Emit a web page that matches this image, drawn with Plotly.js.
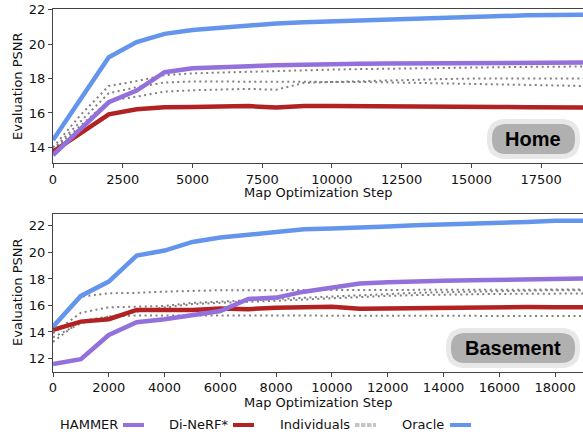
<!DOCTYPE html>
<html>
<head>
<meta charset="utf-8">
<script src="https://cdn.plot.ly/plotly-3.0.1.min.js"></script>
<style>html,body{margin:0;padding:0;background:#fff;}#chart{width:583px;height:435px;}</style>
</head>
<body>
<div id="chart"></div>
<script>
// ---- data ----
const steps = [0,1000,2000,3000,4000,5000,6000,7000,8000,9000,10000,11000,12000,13000,14000,15000,16000,17000,18000,19000];

const homeOracle = [14.43,16.85,19.24,20.12,20.6,20.83,20.97,21.1,21.2,21.28,21.33,21.4,21.48,21.5,21.55,21.6,21.65,21.68,21.7,21.72];
const homeHammer = [13.55,15.05,16.62,17.3,18.37,18.6,18.68,18.76,18.78,18.8,18.85,18.86,18.87,18.88,18.88,18.9,18.9,18.92,18.92,18.93];
const homeDinerf = [13.75,14.8,15.92,16.21,16.33,16.35,16.35,16.4,16.31,16.4,16.4,16.4,16.4,16.4,16.35,16.37,16.35,16.33,16.33,16.32];
const homeIndA = [14.0,15.9,17.57,17.85,18.2,18.3,18.35,18.4,18.45,18.5,18.52,18.55,18.58,18.6,18.62,18.64,18.66,18.68,18.7,18.7];
const homeIndB = [13.9,15.55,17.15,17.5,17.77,17.83,17.83,17.8,17.8,17.8,17.82,17.8,17.78,17.75,17.72,17.7,17.65,17.62,17.6,17.57];
const homeIndC = [13.85,15.3,16.7,16.95,17.24,17.32,17.35,17.4,17.35,17.75,17.8,17.85,17.9,17.95,17.97,18.0,18.0,18.0,17.98,18.0];

const baseOracle = [14.4,16.72,17.8,19.76,20.14,20.79,21.12,21.32,21.57,21.75,21.8,21.85,21.95,22.05,22.1,22.15,22.2,22.3,22.4,22.4];
const baseHammer = [11.58,11.94,13.77,14.73,14.96,15.28,15.58,16.49,16.59,17.04,17.35,17.65,17.75,17.85,17.87,17.9,17.95,17.97,18.0,18.03];
const baseDinerf = [14.15,14.78,14.96,15.66,15.66,15.66,15.76,15.72,15.83,15.83,15.9,15.75,15.78,15.78,15.8,15.83,15.9,15.88,15.86,15.86];
const baseInd1 = [14.3,16.66,16.92,16.95,17.04,17.12,17.15,17.15,17.15,17.15,17.15,17.17,17.17,17.17,17.18,17.18,17.2,17.2,17.2,17.2];
const baseInd2 = [13.9,15.45,15.86,15.9,15.96,16.2,16.3,16.35,16.45,16.55,16.65,16.75,16.85,16.95,17.0,17.05,17.1,17.12,17.15,17.15];
const baseInd3 = [13.6,14.65,15.15,15.53,15.85,16.1,16.2,16.25,16.35,16.45,16.55,16.65,16.72,16.78,16.82,16.85,16.87,16.88,16.9,16.9];
const baseInd4 = [13.25,14.85,15.15,15.25,15.25,15.25,15.25,15.25,15.22,15.22,15.2,15.2,15.2,15.2,15.2,15.2,15.2,15.2,15.2,15.2];

const homeXTicks = [0,2500,5000,7500,10000,12500,15000,17500];
const baseXTicks = [0,2000,4000,6000,8000,10000,12000,14000,16000,18000];
const homeYTicks = [14,16,18,20,22];
const baseYTicks = [12,14,16,18,20,22];

const seriesNames = ['HAMMER','Di-NeRF*','Individuals','Oracle'];
const sceneLabels = ['Home','Basement'];
const xTitle = 'Map Optimization Step';
const yTitle = 'Evaluation PSNR';

// ---- styles ----
const C = {HAMMER:'#9370DB', DINERF:'#B22222', IND:'#808080', ORACLE:'#6495ED'};
const W = 4.5;
const FONT = 'DejaVu Sans, sans-serif';
const H = 435, L = 53, PW = 530;
const px2x = p => (p - L) / PW;
const py2y = p => 1 - p / H;

function line(x, y, color, xa, ya, dotted) {
  return {x:x, y:y, xaxis:xa, yaxis:ya, mode:'lines', type:'scatter', showlegend:false, hoverinfo:'skip',
    line:{color:color, width: dotted ? 2 : W, dash: dotted ? '2px,3.5px' : 'solid'}};
}

const traces = [
  line(steps, homeIndA, C.IND, 'x', 'y', true),
  line(steps, homeIndB, C.IND, 'x', 'y', true),
  line(steps, homeIndC, C.IND, 'x', 'y', true),
  line(steps, homeDinerf, C.DINERF, 'x', 'y'),
  line(steps, homeHammer, C.HAMMER, 'x', 'y'),
  line(steps, homeOracle, C.ORACLE, 'x', 'y'),
  line(steps, baseInd1, C.IND, 'x2', 'y2', true),
  line(steps, baseInd2, C.IND, 'x2', 'y2', true),
  line(steps, baseInd3, C.IND, 'x2', 'y2', true),
  line(steps, baseInd4, C.IND, 'x2', 'y2', true),
  line(steps, baseDinerf, C.DINERF, 'x2', 'y2'),
  line(steps, baseHammer, C.HAMMER, 'x2', 'y2'),
  line(steps, baseOracle, C.ORACLE, 'x2', 'y2'),
];

const axBase = {showgrid:false, zeroline:false, showline:true, linecolor:'#444', linewidth:1,
  ticks:'outside', ticklen:4, tickcolor:'#444', tickfont:{family:FONT, size:13, color:'#111'}, fixedrange:true,
  tickmode:'array'};

function rr(x0, y0, x1, y1, r) {
  const P = (a, b) => px2x(a) + ',' + py2y(b);
  return 'M' + P(x0 + r, y0) + ' L' + P(x1 - r, y0) + ' Q' + P(x1, y0) + ' ' + P(x1, y0 + r) +
    ' L' + P(x1, y1 - r) + ' Q' + P(x1, y1) + ' ' + P(x1 - r, y1) +
    ' L' + P(x0 + r, y1) + ' Q' + P(x0, y1) + ' ' + P(x0, y1 - r) +
    ' L' + P(x0, y0 + r) + ' Q' + P(x0, y0) + ' ' + P(x0 + r, y0) + ' Z';
}

const shapes = [
  {type:'path', xref:'paper', yref:'paper', path: rr(487, 119, 580, 159, 19), fillcolor:'#e8e8e8', line:{width:0}},
  {type:'path', xref:'paper', yref:'paper', path: rr(492, 124, 575, 154, 14), fillcolor:'#b0b0b0', line:{width:0}},
  {type:'path', xref:'paper', yref:'paper', path: rr(446, 328, 580, 368, 19), fillcolor:'#e8e8e8', line:{width:0}},
  {type:'path', xref:'paper', yref:'paper', path: rr(451, 333, 575, 363, 14), fillcolor:'#b0b0b0', line:{width:0}},
];

const legendItems = [
  {name:seriesNames[0], textRight:120, l0:123, l1:144, color:C.HAMMER, dash:'solid'},
  {name:seriesNames[1], textRight:231, l0:233, l1:254, color:C.DINERF, dash:'solid'},
  {name:seriesNames[2], textRight:352, l0:355, l1:376, color:'#c4c4c4', dash:'4.5px,1.5px'},
  {name:seriesNames[3], textRight:446, l0:450, l1:471, color:C.ORACLE, dash:'solid'},
];
const legY = 424;

function ann(text, x, y, extra) {
  return Object.assign({text:text, xref:'paper', yref:'paper', x:px2x(x), y:py2y(y), xanchor:'center', yanchor:'middle',
    showarrow:false, font:{family:FONT, size:13, color:'#111'}}, extra || {});
}

const annotations = [
  ann(yTitle, 17, 86, {textangle:-90}),
  ann(yTitle, 17, 292, {textangle:-90}),
  ann(xTitle, 318, 192),
  ann(xTitle, 318, 402),
  ann('<b>' + sceneLabels[0] + '</b>', 533, 139, {font:{family:'Liberation Sans, Arial, sans-serif', size:20, color:'#000'}}),
  ann('<b>' + sceneLabels[1] + '</b>', 513, 348, {font:{family:'Liberation Sans, Arial, sans-serif', size:20, color:'#000'}}),
];
legendItems.forEach(it => {
  annotations.push(ann(it.name, it.textRight, legY, {xanchor:'right'}));
  shapes.push({type:'line', xref:'paper', yref:'paper', x0:px2x(it.l0), x1:px2x(it.l1), y0:py2y(legY + 1), y1:py2y(legY + 1), line:{color:it.color, width:4, dash:it.dash}});
});

const layout = {
  width:583, height:435, margin:{l:L, r:0, t:0, b:0}, paper_bgcolor:'#fff', plot_bgcolor:'#fff', showlegend:false,
  xaxis: Object.assign({}, axBase, {anchor:'y', domain:[0,1], range:[0,19000], tickvals:homeXTicks, ticktext:homeXTicks.map(String), mirror:true}),
  yaxis: Object.assign({}, axBase, {anchor:'x', domain:[py2y(163.3), py2y(9.3)], range:[13.07,22.03], tickvals:homeYTicks, ticktext:homeYTicks.map(String)}),
  xaxis2: Object.assign({}, axBase, {anchor:'y2', domain:[0,1], range:[0,19000], tickvals:baseXTicks, ticktext:baseXTicks.map(String), mirror:true}),
  yaxis2: Object.assign({}, axBase, {anchor:'x2', domain:[py2y(371.7), py2y(214)], range:[11.0,22.9], tickvals:baseYTicks, ticktext:baseYTicks.map(String)}),
  shapes: shapes, annotations: annotations,
};

Plotly.newPlot('chart', traces, layout, {displayModeBar:false, staticPlot:true});
</script>
</body>
</html>
